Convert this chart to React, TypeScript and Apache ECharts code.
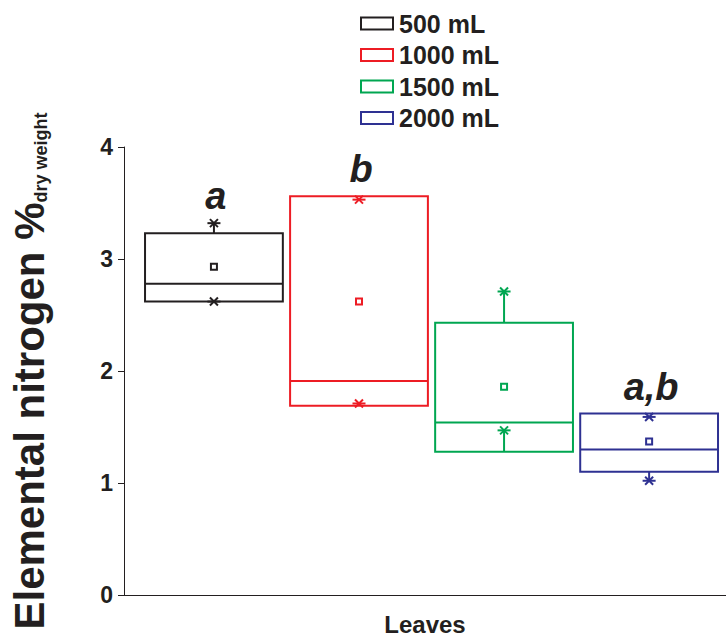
import React, { useEffect, useRef } from "react";
import * as echarts from "echarts";

const groups = ["500 mL", "1000 mL", "1500 mL", "2000 mL"];
const colors = ["#231f20", "#ed1c24", "#00a651", "#2e3192"];
const q1 = [2.62, 1.69, 1.28, 1.1];
const median = [2.78, 1.91, 1.54, 1.3];
const q3 = [3.23, 3.56, 2.43, 1.62];
const means = [2.93, 2.62, 1.86, 1.37];
const lowStar = [2.62, 1.71, 1.47, 1.02];
const highStar = [3.32, 3.53, 2.71, 1.59];
const whiskerLow = [2.62, 1.69, 1.47, 1.02];
const whiskerHigh = [3.32, 3.56, 2.71, 1.62];
const letters = ["a", "b", "", "a,b"];
const yTicks = [0, 1, 2, 3, 4];
const categoryName = "Leaves";

const FONT = '"Liberation Sans", Arial, sans-serif';
const INK = "#231f20";

function starShape(cx: number, cy: number, color: string) {
  const h = 6.5;
  const d = 4;
  const st = { stroke: color, lineWidth: 2 };
  return {
    type: "group",
    children: [
      { type: "line", shape: { x1: cx - h, y1: cy, x2: cx + h, y2: cy }, style: st },
      { type: "line", shape: { x1: cx - d, y1: cy - d, x2: cx + d, y2: cy + d }, style: st },
      { type: "line", shape: { x1: cx - d, y1: cy + d, x2: cx + d, y2: cy - d }, style: st },
    ],
  };
}

function renderItem(params: any, api: any) {
  const x = api.value(0);
  const color = colors[params.seriesIndex];
  const cx = api.coord([x, 0])[0];
  const y = (v: number) => api.coord([x, v])[1];
  const yq1 = y(api.value(1));
  const ymed = y(api.value(2));
  const yq3 = y(api.value(3));
  const ymean = y(api.value(4));
  const yLow = y(api.value(5));
  const yHigh = y(api.value(6));
  const yWL = y(api.value(7));
  const yWH = y(api.value(8));
  const w = api.size([1, 0])[0] * 0.95;
  const st = { stroke: color, lineWidth: 2, fill: "none" };
  const children: any[] = [];
  if (Math.abs(yWH - yq3) > 0.5)
    children.push({ type: "line", shape: { x1: cx, y1: yq3, x2: cx, y2: yWH }, style: st });
  if (Math.abs(yWL - yq1) > 0.5)
    children.push({ type: "line", shape: { x1: cx, y1: yq1, x2: cx, y2: yWL }, style: st });
  children.push({
    type: "rect",
    shape: { x: cx - w / 2, y: yq3, width: w, height: yq1 - yq3 },
    style: st,
  });
  children.push({ type: "line", shape: { x1: cx - w / 2, y1: ymed, x2: cx + w / 2, y2: ymed }, style: st });
  children.push({ type: "rect", shape: { x: cx - 3, y: ymean - 3, width: 6, height: 6 }, style: st });
  children.push(starShape(cx, yLow, color));
  children.push(starShape(cx, yHigh, color));
  const letter = letters[params.seriesIndex];
  if (letter) {
    const top = Math.min(yq3, yHigh, yWH);
    children.push({
      type: "text",
      style: {
        text: letter,
        x: cx + 2,
        y: top - 27,
        textAlign: "center",
        textVerticalAlign: "middle",
        font: `italic bold 38px ${FONT}`,
        fill: INK,
      },
    });
  }
  return { type: "group", children };
}

export default function App() {
  const ref = useRef<HTMLDivElement>(null);
  useEffect(() => {
    const chart = echarts.init(ref.current!, null, { renderer: "svg" });
    const series = groups.map((g, i) => ({
      type: "custom",
      name: g,
      renderItem,
      itemStyle: { color: colors[i] },
      data: [[i, q1[i], median[i], q3[i], means[i], lowStar[i], highStar[i], whiskerLow[i], whiskerHigh[i]]],
      encode: { x: 0, y: [1, 2, 3, 4, 5, 6, 7, 8] },
      clip: false,
    }));
    chart.setOption({
      animation: false,
      backgroundColor: "#ffffff",
      grid: { left: 124, right: 0, top: 147, bottom: 42, containLabel: false, outerBoundsMode: "none" },
      legend: {
        orient: "vertical",
        left: 360,
        top: 11,
        padding: 0,
        itemWidth: 32,
        itemHeight: 12,
        itemGap: 6.5,
        textStyle: { fontFamily: FONT, fontWeight: "bold", fontSize: 25, color: INK, lineHeight: 25, padding: [0, 0, 0, 1] },
        data: groups.map((g, i) => ({
          name: g,
          icon: "rect",
          itemStyle: { color: "#ffffff", borderColor: colors[i], borderWidth: 2 },
        })),
        selectedMode: false,
      },
      xAxis: {
        type: "value",
        min: -0.62,
        max: 3.53,
        name: categoryName,
        nameLocation: "middle",
        nameGap: 17,
        nameTextStyle: { fontFamily: FONT, fontWeight: "bold", fontSize: 24, color: INK },
        axisLine: { show: true, onZero: false, lineStyle: { color: INK, width: 1 } },
        axisTick: { show: false },
        axisLabel: { show: false },
        splitLine: { show: false },
      },
      yAxis: {
        type: "value",
        min: yTicks[0],
        max: yTicks[yTicks.length - 1],
        interval: 1,
        axisLine: { show: true, onZero: false, lineStyle: { color: INK, width: 1 } },
        axisTick: { show: true, length: 6, lineStyle: { color: INK } },
        axisLabel: { fontFamily: FONT, fontWeight: "bold", fontSize: 23, color: INK, margin: 11 },
        splitLine: { show: false },
        name: "{m|Elemental nitrogen %}{s|dry weight}",
        nameLocation: "middle",
        nameRotate: 90,
        nameGap: 74,
        nameTextStyle: {
          rich: {
            m: { fontFamily: FONT, fontWeight: "bold", fontSize: 42, color: INK, lineHeight: 42, verticalAlign: "bottom" },
            s: { fontFamily: FONT, fontWeight: "bold", fontSize: 18, color: INK, lineHeight: 18, verticalAlign: "bottom" },
          },
        },
      },
      series,
    });
    return () => chart.dispose();
  }, []);
  return <div ref={ref} style={{ position: "fixed", left: 0, top: 0, width: 726, height: 637 }} />;
}
